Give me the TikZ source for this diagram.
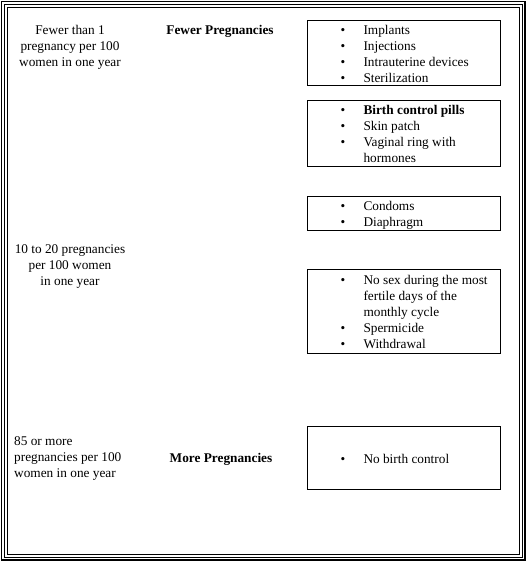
\documentclass[tikz,border=0pt]{standalone}
\usepackage{fontspec}
\setmainfont{Liberation Serif}
\usetikzlibrary{positioning}

\newcommand{\methods}[1]{%
  \raisebox{-2pt}[\height][\depth]{\begin{tabular}{@{\hspace{33pt}}p{23pt}@{}p{137pt}@{}}#1\end{tabular}}}

\begin{document}
\begin{tikzpicture}[
    x=1pt, y=-1pt,
    every node/.style={font=\fontsize{13.3}{16}\selectfont, inner sep=0pt},
    rate/.style={align=center},
    level/.style={font=\fontsize{13.3}{16}\selectfont\bfseries},
    methodbox/.style={draw, line width=1pt, minimum width=193pt, anchor=north west},
    frame/.style={line width=1pt},
]

\useasboundingbox (0,0) rectangle (528,564);

% Triple frame round the page
\draw[frame, line width=1.6pt] (1.5,1.5) rectangle (525,560);
\draw[frame] (4.5,4.5) rectangle (522,557);
\draw[frame] (7.5,7.5) rectangle (519,554);

% Rates (left column)
\node[rate] (fewerrate) at (70,47) {Fewer than 1\\pregnancy per 100\\women in one year};
\node[rate] (midrate) at (70,267) {10 to 20 pregnancies\\per 100 women\\in one year};
\node[align=left, anchor=west] (morerate) at (14,459) {85 or more\\pregnancies per 100\\women in one year};

% Levels (middle column)
\node[level] (fewerlabel) at (220,31) {Fewer Pregnancies};
\node[level] (morelabel) at (221,459) {More Pregnancies};

% Method boxes (right column)
\node[methodbox, minimum height=65pt] (implants) at (307,20) {\methods{%
  \textbullet & Implants\\
  \textbullet & Injections\\
  \textbullet & Intrauterine devices\\
  \textbullet & Sterilization}};
\node[methodbox, minimum height=66pt] (pills) at (307,100) {\methods{%
  \textbullet & \textbf{Birth control pills}\\
  \textbullet & Skin patch\\
  \textbullet & Vaginal ring with\\
  & hormones}};
\node[methodbox, minimum height=34pt] (condoms) at (307,196) {\methods{%
  \textbullet & Condoms\\
  \textbullet & Diaphragm}};
\node[methodbox, minimum height=84pt] (natural) at (307,269) {\methods{%
  \textbullet & No sex during the most\\
  & fertile days of the\\
  & monthly cycle\\
  \textbullet & Spermicide\\
  \textbullet & Withdrawal}};
\node[methodbox, minimum height=63pt] (nocontrol) at (307,426) {\methods{%
  \textbullet & No birth control}};

\end{tikzpicture}
\end{document}
